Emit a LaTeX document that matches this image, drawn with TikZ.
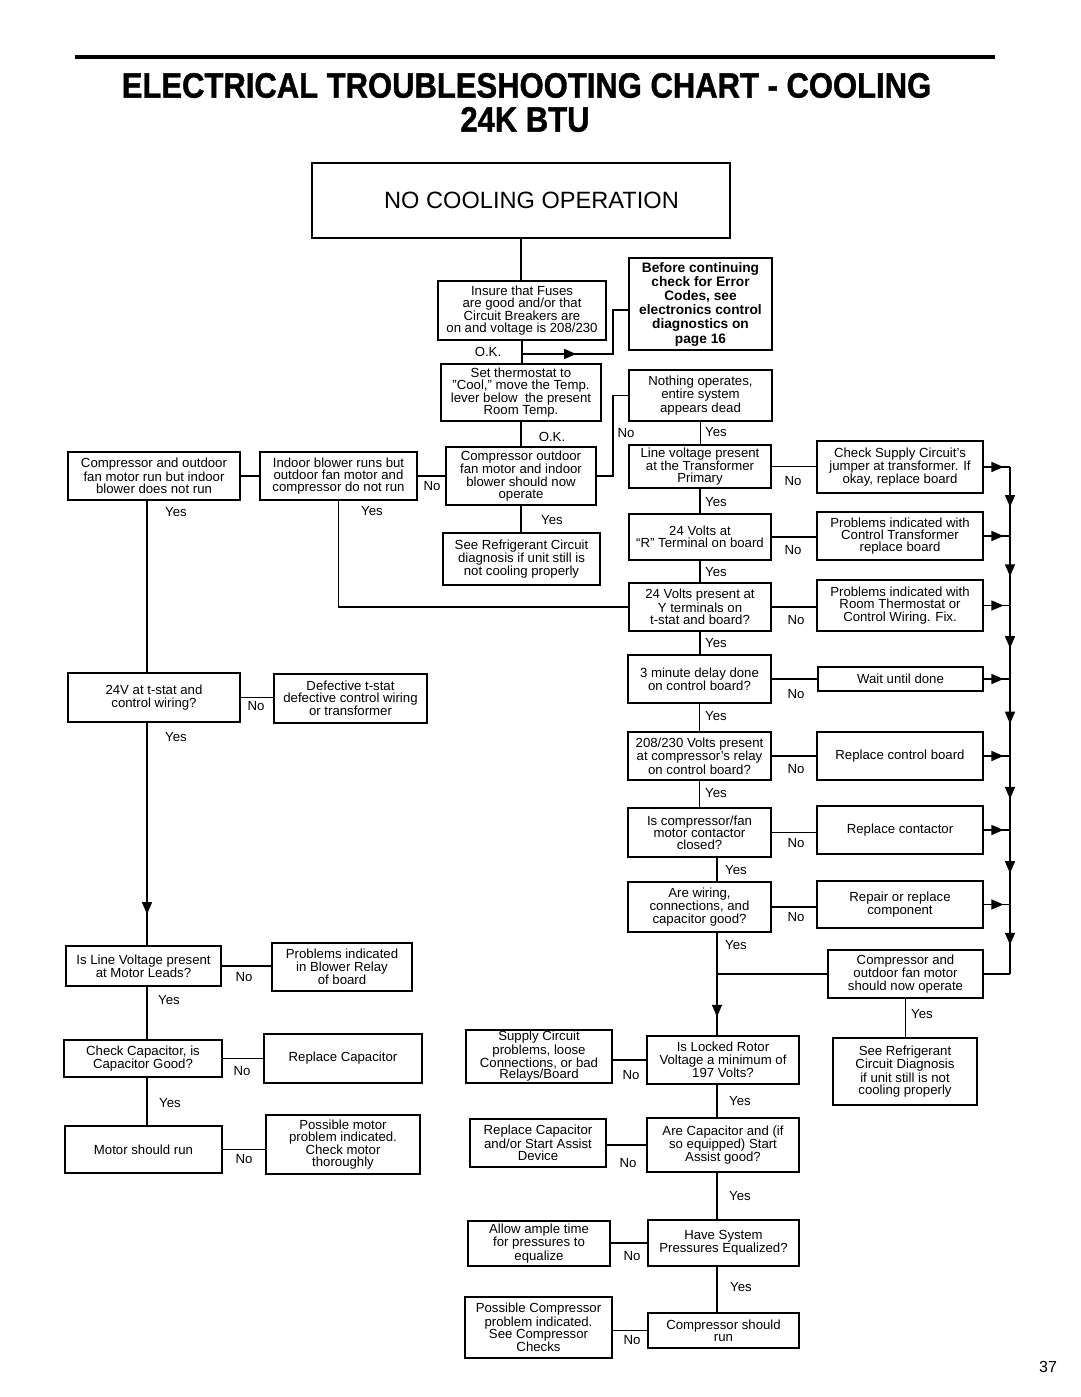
\documentclass[tikz,border=0pt]{standalone}
\usepackage{fontspec}
\usepackage{graphicx}
\setmainfont{Liberation Sans}
\newfontfamily\FCtitlefont{Liberation Sans Bold}[FakeBold=1.2]
\usetikzlibrary{arrows.meta,decorations.markings}
\newcommand\FCbody{\fontsize{13.2}{12.2}\selectfont}
\tikzset{
  box/.style={draw, line width=1.5pt, inner sep=0pt, align=center, font=\FCbody},
  lbl/.style={inner sep=0pt, font=\FCbody},
  conn/.style={line width=1.5pt},
  midarr/.style={postaction={decorate,decoration={markings,mark=at position #1 with {\arrow{Triangle[length=12pt,width=10pt]}}}}}
}
\newcommand\FCbox[7][]{\node[box,#1,minimum width={#5-#3},minimum height={#6-#4}] (#2) at ({(#3+#5)/2},{(#4+#6)/2}) {#7};}
\begin{document}
\begin{tikzpicture}[x=1pt,y=-1pt]
\fill[white] (0,0) rectangle (1080,1397);
\useasboundingbox (0,0) rectangle (1080,1397);
% title
\draw[line width=4pt] (75,57) -- (995,57);
\node[inner sep=0pt,font={\FCtitlefont\fontsize{31}{34}\selectfont}] (title1) at (526.5,85.5) {\scalebox{1}[1.14]{ELECTRICAL TROUBLESHOOTING CHART - COOLING}};
\node[inner sep=0pt,font={\FCtitlefont\fontsize{31}{34}\selectfont}] (title2) at (525,119.5) {\scalebox{1}[1.14]{24K BTU}};
% boxes
\FCbox[font={\fontsize{23.6}{26}\selectfont}]{start}{312}{163}{730}{238}{\hspace*{21pt}NO COOLING OPERATION}
\FCbox{insure}{438}{281}{606}{340}{Insure that Fuses\\are good and/or that\\Circuit Breakers are\\on and voltage is 208/230}
\FCbox[font={\bfseries\fontsize{13.7}{14.2}\selectfont}]{before}{629}{258}{772}{350}{Before continuing\\check for Error\\Codes, see\\electronics control\\diagnostics on\\page 16}
\FCbox{thermo}{441}{364}{601}{421}{Set thermostat to\\"Cool," move the Temp.\\lever below\ \ the present\\Room Temp.}
\FCbox{nothing}{629}{370}{772}{421}{Nothing operates,\\entire system\\appears dead}
\FCbox{compout}{446}{447}{596}{505}{Compressor outdoor\\fan motor and indoor\\blower should now\\operate}
\FCbox{indoor}{260}{452}{417}{500}{Indoor blower runs but\\outdoor fan motor and\\compressor do not run}
\FCbox{compind}{68}{452}{240}{500}{Compressor and outdoor\\fan motor run but indoor\\blower does not run}
\FCbox{seeref}{443}{533}{600}{585}{See Refrigerant Circuit\\diagnosis if unit still is\\not cooling properly}
\FCbox{qline}{629}{445}{771}{488}{Line voltage present\\at the Transformer\\Primary}
\FCbox{rsupply}{817}{441}{983}{493}{Check Supply Circuit's\\jumper at transformer. If\\okay, replace board}
\FCbox{qr}{629}{514}{771}{560}{24 Volts at\\“R” Terminal on board}
\FCbox{rtrans}{817}{512}{983}{560}{Problems indicated with\\Control Transformer\\replace board}
\FCbox{qy}{629}{583}{771}{631}{24 Volts present at\\Y terminals on\\t-stat and board?}
\FCbox{rstat}{817}{580}{983}{631}{Problems indicated with\\Room Thermostat or\\Control Wiring. Fix.}
\FCbox{qdelay}{628}{655}{771}{703}{3 minute delay done\\on control board?}
\FCbox{rwait}{818}{667}{983}{691}{Wait until done}
\FCbox{qrelay}{628}{732}{771}{780}{208/230 Volts present\\at compressor's relay\\on control board?}
\FCbox{rboard}{817}{732}{983}{780}{Replace control board}
\FCbox{qcont}{628}{808}{771}{857}{Is compressor/fan\\motor contactor\\closed?}
\FCbox{rcont}{817}{806}{983}{854}{Replace contactor}
\FCbox{qwire}{628}{882}{771}{932}{Are wiring,\\connections, and\\capacitor good?}
\FCbox{rcomp}{817}{881}{983}{928}{Repair or replace\\component}
\FCbox{nowop}{828}{950}{983}{998}{Compressor and\\outdoor fan motor\\should now operate}
\FCbox{seeref2}{833}{1038}{977}{1105}{See Refrigerant\\Circuit Diagnosis\\if unit still is not\\cooling properly}
\FCbox{qlock}{647}{1036}{799}{1084}{Is Locked Rotor\\Voltage a minimum of\\197 Volts?}
\FCbox[font={\fontsize{13.2}{11.4}\selectfont}]{rsupp}{466}{1030}{612}{1083}{Supply Circuit\\problems, loose\\Connections, or bad\\Relays/Board}
\FCbox{qcap}{647}{1118}{799}{1172}{Are Capacitor and (if\\so equipped) Start\\Assist good?}
\FCbox{rcap}{470}{1119}{606}{1167}{Replace Capacitor\\and/or Start Assist\\Device}
\FCbox{qpress}{648}{1220}{799}{1266}{Have System\\Pressures Equalized?}
\FCbox{rallow}{468}{1221}{610}{1266}{Allow ample time\\for pressures to\\equalize}
\FCbox{qrun}{648}{1313}{799}{1348}{Compressor should\\run}
\FCbox{rposs}{465}{1297}{612}{1358}{Possible Compressor\\problem indicated.\\See Compressor\\Checks}
\FCbox{q24}{68}{673}{240}{722}{24V at t-stat and\\control wiring?}
\FCbox{rdef}{274}{674}{427}{723}{Defective t-stat\\defective control wiring\\or transformer}
\FCbox{qmotor}{66}{946}{221}{986}{Is Line Voltage present\\at Motor Leads?}
\FCbox{rblow}{272}{943}{412}{991}{Problems indicated\\in Blower Relay\\of board}
\FCbox{qccap}{64}{1040}{222}{1077}{Check Capacitor, is\\Capacitor Good?}
\FCbox{rrcap}{264}{1034}{422}{1083}{Replace Capacitor}
\FCbox{qmrun}{65}{1126}{222}{1173}{Motor should run}
\FCbox{rmotor}{266}{1115}{420}{1174}{Possible motor\\problem indicated.\\Check motor\\thoroughly}
% helper coordinates
\coordinate (jA) at (613,354);
\coordinate (jB) at (613,310);
\coordinate (colA) at (147,0);
\coordinate (colB) at (717,0);
\coordinate (bus) at (1010,0);
% top connectors
\draw[conn] (start.south) -- (start.south |- insure.north);
\draw[conn] (insure.south) -- (insure.south |- thermo.north);
\draw[conn,midarr=0.36] (insure.south |- jA) -- (jA) -- (jB) -- (jB -| before.west);
\draw[conn] (thermo.south) -- (thermo.south |- compout.north);
\draw[conn] (nothing.west) -| (jB |- compout.east) -- (compout.east);
\draw[conn] (compout.south) -- (compout.south |- seeref.north);
\draw[conn] (indoor.east) -- (indoor.east -| compout.west);
\draw[conn] (compind.east) -- (compind.east -| indoor.west);
\draw[conn] (indoor.south) |- (qy.west);
% left column
\draw[conn] (compind.south -| colA) -- (q24.north -| colA);
\draw[conn,midarr=0.86] (q24.south -| colA) -- (qmotor.north -| colA);
\draw[conn] (qmotor.south -| colA) -- (qccap.north -| colA);
\draw[conn] (qccap.south -| colA) -- (qmrun.north -| colA);
\draw[conn] (q24.east) -- (q24.east -| rdef.west);
\draw[conn] (qmotor.east) -- (qmotor.east -| rblow.west);
\draw[conn] (qccap.east) -- (qccap.east -| rrcap.west);
\draw[conn] (qmrun.east) -- (qmrun.east -| rmotor.west);
% right column
\draw[conn] (nothing.south) -- (nothing.south |- qline.north);
\draw[conn] (qline.south) -- (qline.south |- qr.north);
\draw[conn] (qr.south) -- (qr.south |- qy.north);
\draw[conn] (qy.south) -- (qy.south |- qdelay.north);
\draw[conn] (qdelay.south) -- (qdelay.south |- qrelay.north);
\draw[conn] (qrelay.south) -- (qrelay.south |- qcont.north);
\draw[conn] (qcont.south -| colB) -- (qwire.north -| colB);
\draw[conn,midarr=0.82] (qwire.south -| colB) -- (qlock.north -| colB);
\draw[conn] (nowop.west) -- (nowop.west -| colB);
\draw[conn] (nowop.south) -- (nowop.south |- seeref2.north);
\draw[conn] (qline.east) -- (qline.east -| rsupply.west);
\draw[conn] (qr.east) -- (qr.east -| rtrans.west);
\draw[conn] (qy.east) -- (qy.east -| rstat.west);
\draw[conn] (qdelay.east) -- (qdelay.east -| rwait.west);
\draw[conn] (qrelay.east) -- (qrelay.east -| rboard.west);
\draw[conn] (qcont.east) -- (qcont.east -| rcont.west);
\draw[conn] (qwire.east) -- (qwire.east -| rcomp.west);
\foreach \r in {rsupply,rtrans,rstat,rwait,rboard,rcont,rcomp}
  \draw[conn,midarr=0.75] (\r.east) -- (\r.east -| bus);
\draw[conn,midarr=0.58] (rsupply.east -| bus) -- (rtrans.east -| bus);
\draw[conn,midarr=0.58] (rtrans.east -| bus) -- (rstat.east -| bus);
\draw[conn,midarr=0.58] (rstat.east -| bus) -- (rwait.east -| bus);
\draw[conn,midarr=0.58] (rwait.east -| bus) -- (rboard.east -| bus);
\draw[conn,midarr=0.58] (rboard.east -| bus) -- (rcont.east -| bus);
\draw[conn,midarr=0.58] (rcont.east -| bus) -- (rcomp.east -| bus);
\draw[conn,midarr=0.58] (rcomp.east -| bus) -- (nowop.east -| bus);
\draw[conn] (nowop.east -| bus) -- (nowop.east);
% bottom column
\draw[conn] (qlock.south -| colB) -- (qcap.north -| colB);
\draw[conn] (qcap.south -| colB) -- (qpress.north -| colB);
\draw[conn] (qpress.south -| colB) -- (qrun.north -| colB);
\draw[conn] (qlock.west) -- (qlock.west -| rsupp.east);
\draw[conn] (qcap.west) -- (qcap.west -| rcap.east);
\draw[conn] (qpress.west) -- (qpress.west -| rallow.east);
\draw[conn] (qrun.west) -- (qrun.west -| rposs.east);
% labels
\node[lbl] (ok1) at (488,352) {O.K.};
\node[lbl] (ok2) at (552,437) {O.K.};
\node[lbl] (l1) at (626,433) {No};
\node[lbl] (l2) at (716,432) {Yes};
\node[lbl] (l3) at (432,486) {No};
\node[lbl] (l4) at (552,520) {Yes};
\node[lbl] (l5) at (176,512) {Yes};
\node[lbl] (l6) at (372,511) {Yes};
\node[lbl] (l7) at (793,481) {No};
\node[lbl] (l8) at (716,502) {Yes};
\node[lbl] (l9) at (793,550) {No};
\node[lbl] (l10) at (716,572) {Yes};
\node[lbl] (l11) at (796,620) {No};
\node[lbl] (l12) at (716,643) {Yes};
\node[lbl] (l13) at (796,694) {No};
\node[lbl] (l14) at (716,716) {Yes};
\node[lbl] (l15) at (796,769) {No};
\node[lbl] (l16) at (716,793) {Yes};
\node[lbl] (l17) at (796,843) {No};
\node[lbl] (l18) at (736,870) {Yes};
\node[lbl] (l19) at (796,917) {No};
\node[lbl] (l20) at (736,945) {Yes};
\node[lbl] (l21) at (922,1014) {Yes};
\node[lbl] (l22) at (256,706) {No};
\node[lbl] (l23) at (176,737) {Yes};
\node[lbl] (l24) at (244,977) {No};
\node[lbl] (l25) at (169,1000) {Yes};
\node[lbl] (l26) at (242,1071) {No};
\node[lbl] (l27) at (170,1103) {Yes};
\node[lbl] (l28) at (244,1159) {No};
\node[lbl] (l29) at (631,1075) {No};
\node[lbl] (l30) at (740,1101) {Yes};
\node[lbl] (l31) at (628,1163) {No};
\node[lbl] (l32) at (740,1196) {Yes};
\node[lbl] (l33) at (632,1256) {No};
\node[lbl] (l34) at (741,1287) {Yes};
\node[lbl] (l35) at (632,1340) {No};
\node[inner sep=0pt,font={\fontsize{16}{18}\selectfont}] (pg) at (1048,1367) {37};
\end{tikzpicture}
\end{document}
